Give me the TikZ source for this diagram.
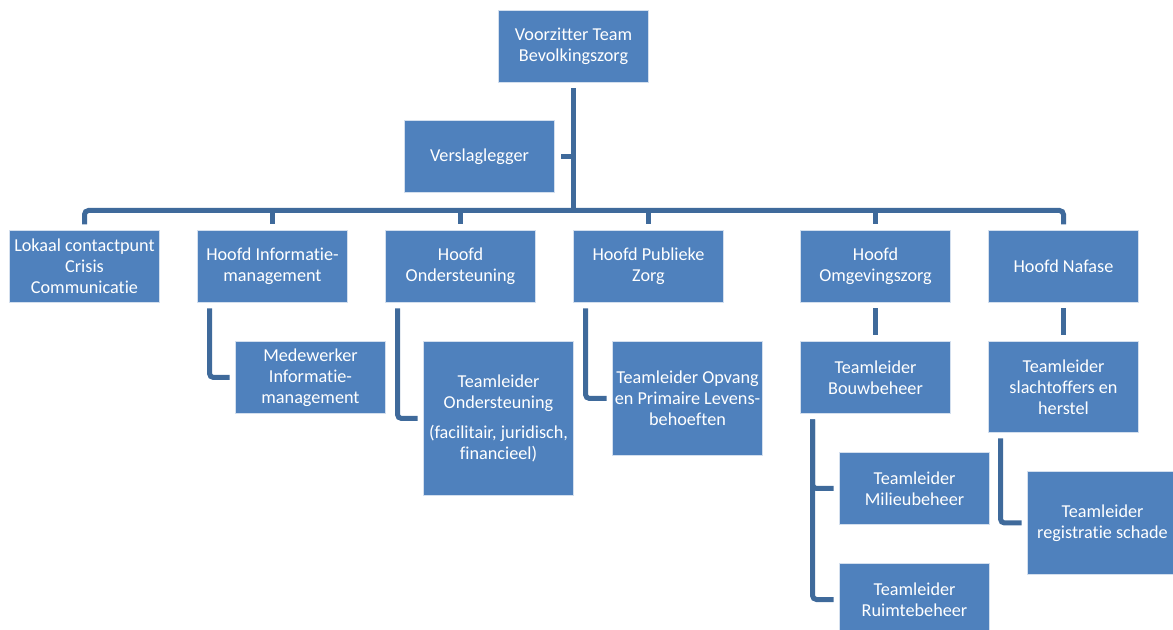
\documentclass[tikz,border=0pt]{standalone}
\usepackage{fontspec}
\setmainfont{Carlito}[Ligatures=NoCommon]
\usetikzlibrary{positioning}
\definecolor{boxblue}{HTML}{4F81BD}
\definecolor{lineblue}{HTML}{3F6A9B}
\tikzset{box/.style={fill=boxblue,draw=white!75!boxblue,line width=0.4pt,outer sep=0pt,text=white,
    minimum width=75pt,inner xsep=0pt,inner ysep=1pt,minimum height=36pt,align=center,
    font=\fontsize{9.1}{10.6}\selectfont},
  link/.style={draw=lineblue,line width=2.5pt,rounded corners=2pt,shorten <=3pt,shorten >=3pt},
  node distance=19pt}

\begin{document}
\begin{tikzpicture}
              \useasboundingbox (0,0) rectangle (586.5pt,-315pt);
              \node[box] (v) at (286.75pt,-23.25pt) {Voorzitter Team\\Bevolkingszorg};
              \node[box] (vl) at (239.75pt,-78.25pt) {Verslaglegger};
              \coordinate (bar) at (287pt,-105.25pt);

              \node[box] (a) at (42.25pt,-133.25pt) {Lokaal contactpunt\\Crisis\\Communicatie};
              \node[box] (b) [right=of a] {Hoofd Informatie-\\management};
              \node[box] (c) [right=of b] {Hoofd\\Ondersteuning};
              \node[box] (d) [right=of c] {Hoofd Publieke\\Zorg};
              \node[box] (e) [right=38.5pt of d] {Hoofd\\Omgevingszorg};
              \node[box] (f) [right=of e] {Hoofd Nafase};

              \node[box] (b1) [below=19.5pt of b, xshift=19pt] {Medewerker\\Informatie-\\management};
              \node[box,minimum height=77pt] (c1) [below=19.5pt of c, xshift=19pt]
                {Teamleider\\Ondersteuning\\[4pt](facilitair, juridisch,\\financieel)};
              \node[box,minimum height=57pt] (d1) [below=19.5pt of d, xshift=19.5pt]
                {Teamleider Opvang\\en Primaire Levens-\\behoeften};
              \node[box] (e1) [below=19.5pt of e] {Teamleider\\Bouwbeheer};
              \node[box] (e2) [below=19.5pt of e1, xshift=19.5pt] {Teamleider\\Milieubeheer};
              \node[box] (e3) [below=19.5pt of e2] {Teamleider\\Ruimtebeheer};
              \node[box,minimum height=45.5pt] (f1) [below=19.5pt of f] {Teamleider\\slachtoffers en\\herstel};
              \node[box,minimum height=51.5pt] (f2) [below=19.5pt of f1, xshift=19.5pt] {Teamleider\\registratie schade};

              \draw[link,shorten >=0pt] (v) -- (v |- bar);
              \draw[link,shorten <=0pt] (v |- vl) -- (vl);
              \draw[link] (a) |- (bar) -| (f);
              \foreach \n in {b,c,d,e}
                \draw[link,shorten <=0pt] (\n |- bar) -- (\n);

              \draw[link] ([xshift=6pt]b.south west) |- (b1);
              \draw[link] ([xshift=6pt]c.south west) |- (c1);
              \draw[link] ([xshift=6pt]d.south west) |- (d1);
              \draw[link] (e) -- (e1);
              \draw[link] ([xshift=6pt]e1.south west) |- (e2);
              \draw[link] ([xshift=6pt]e1.south west) |- (e3);
              \draw[link] (f) -- (f1);
              \draw[link] ([xshift=6pt]f1.south west) |- (f2);
            \end{tikzpicture}
\end{document}
